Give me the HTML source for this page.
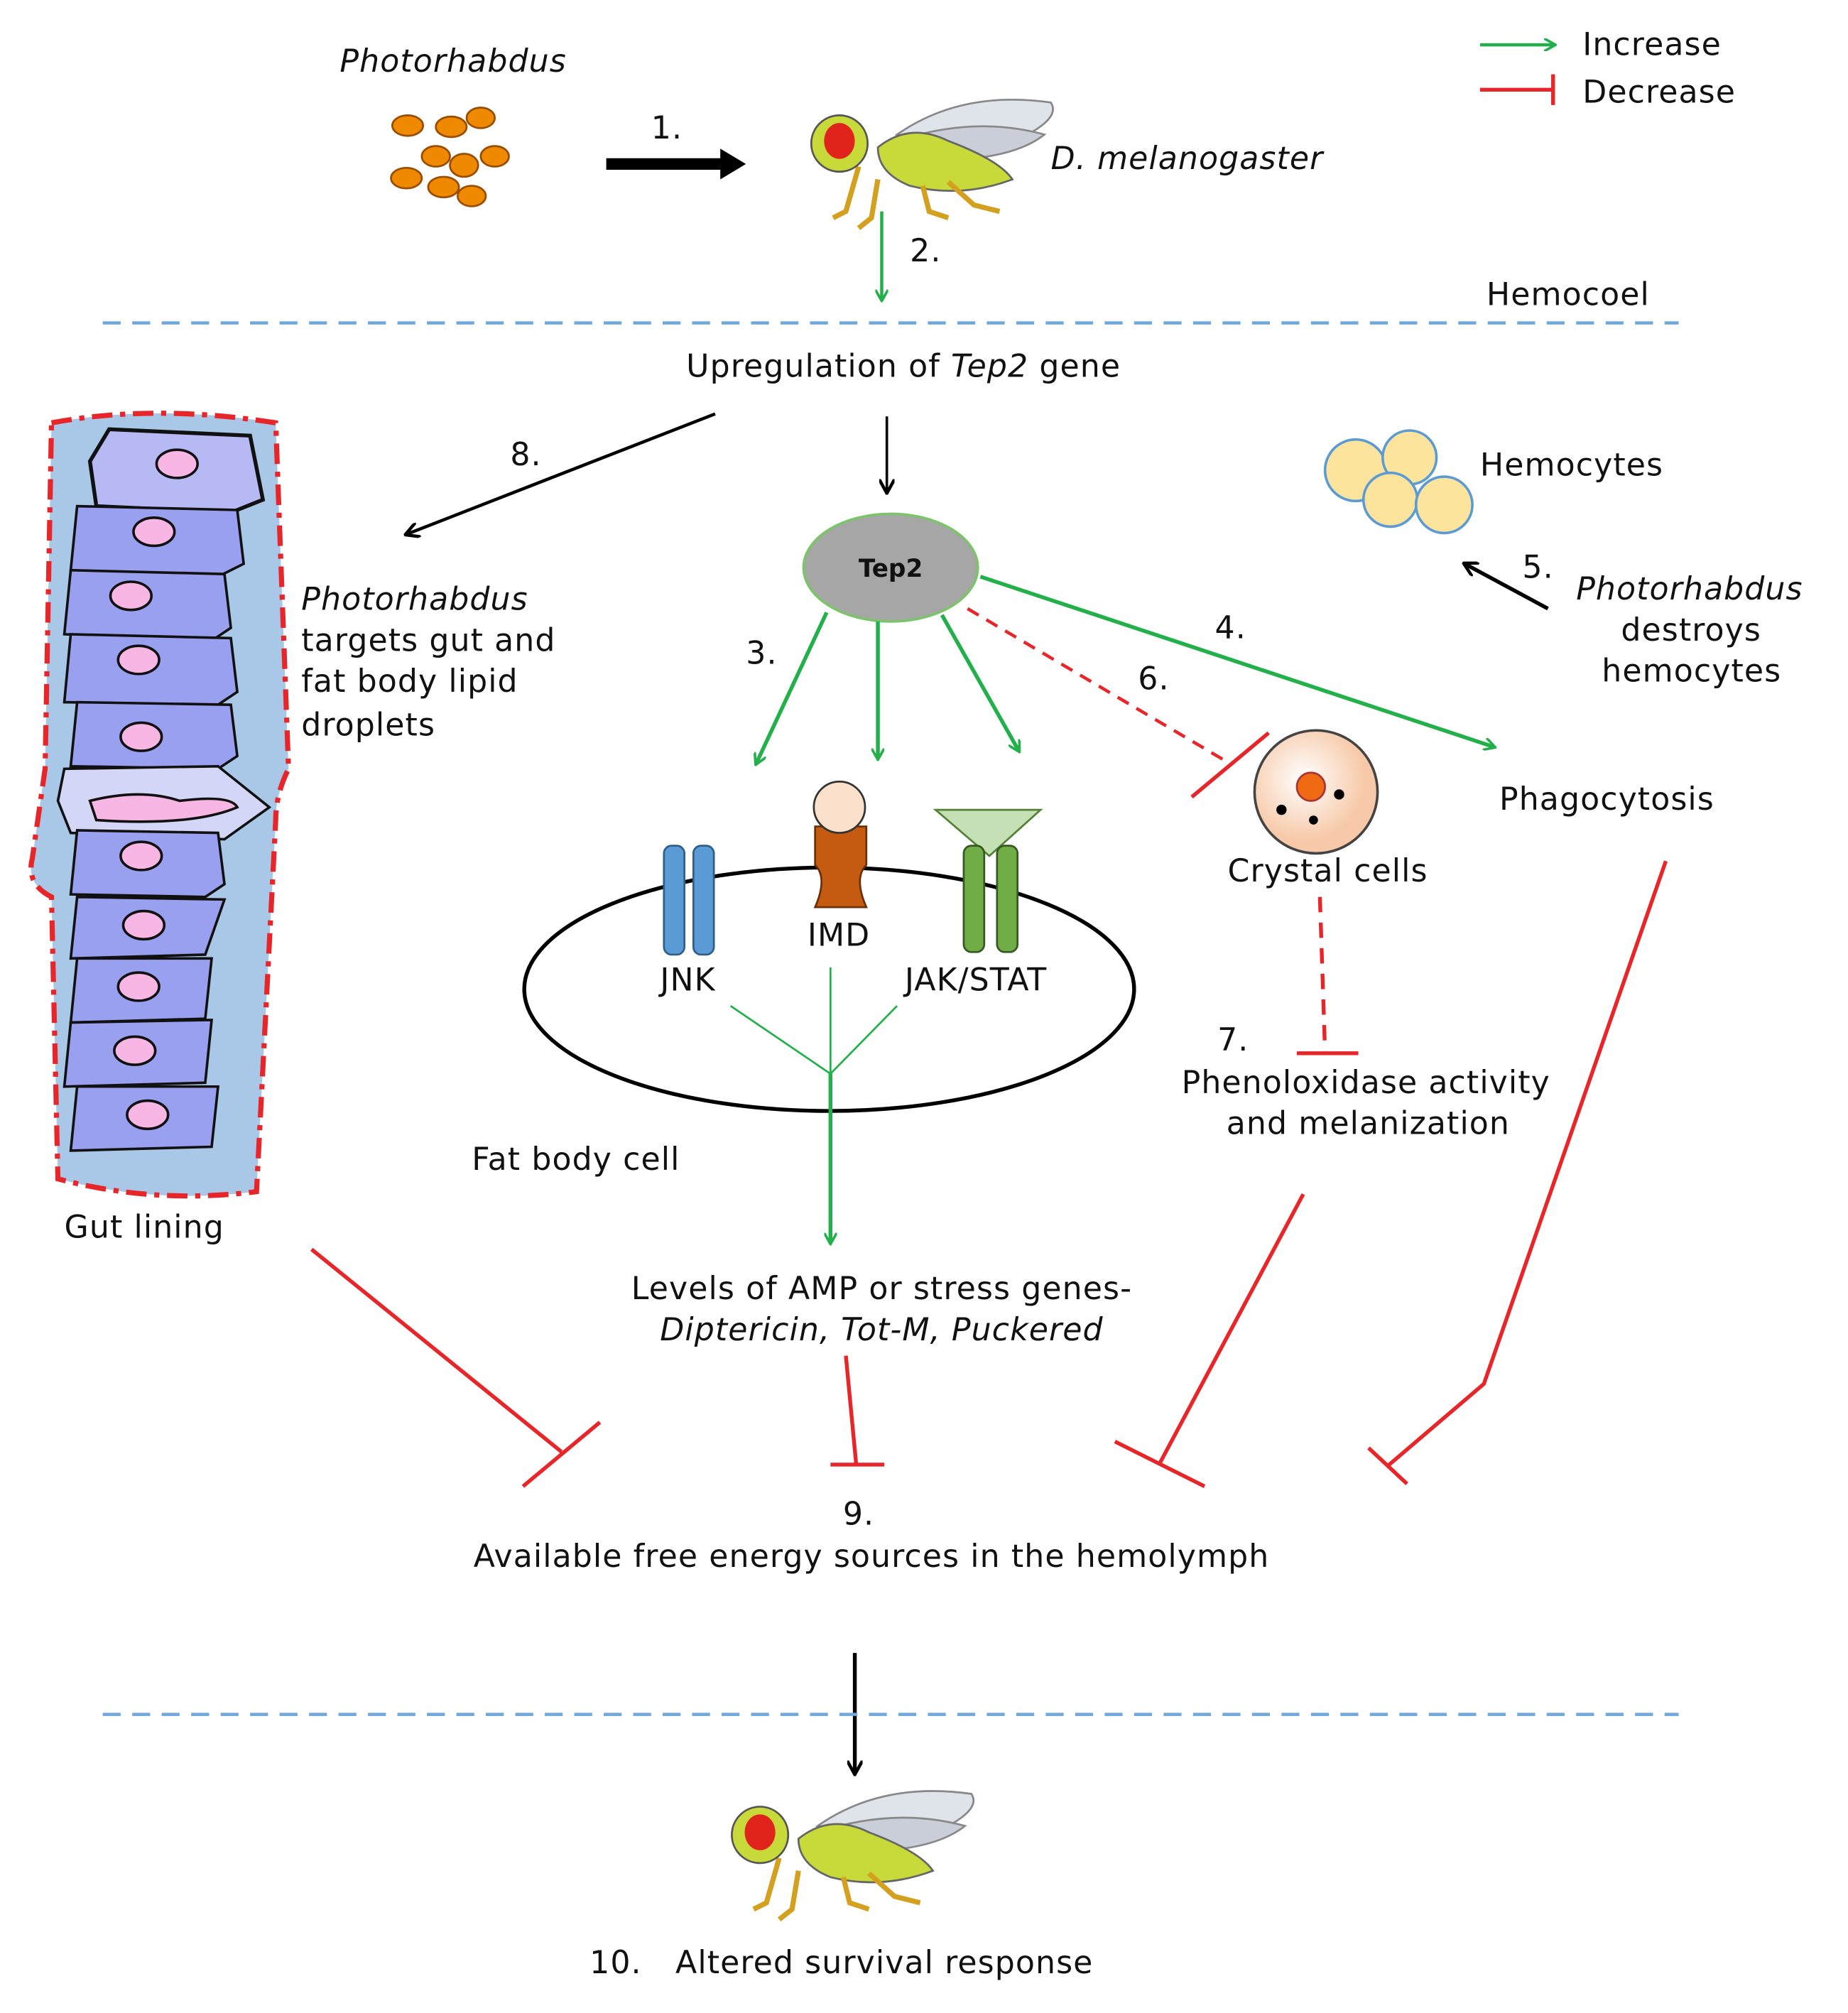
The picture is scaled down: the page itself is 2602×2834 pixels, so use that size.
<!DOCTYPE html>
<html><head><meta charset="utf-8"><style>
html,body{margin:0;padding:0;background:#fff}
svg{display:block}
text{font-family:"DejaVu Sans","Liberation Sans",sans-serif;font-size:24.5px;letter-spacing:0.6px;fill:#111}
.i{font-style:italic}
</style></head><body>
<svg width="2602" height="2834" viewBox="0 0 1442 1571" xmlns="http://www.w3.org/2000/svg">
<defs>
<marker id="ag" markerWidth="10" markerHeight="10" refX="8" refY="5" orient="auto" markerUnits="userSpaceOnUse" viewBox="0 0 10 10"><path d="M0,0 L9,5 L0,10" fill="none" stroke="#22b04b" stroke-width="2"/></marker>
<marker id="ak" markerWidth="12" markerHeight="12" refX="10" refY="6" orient="auto" markerUnits="userSpaceOnUse" viewBox="0 0 12 12"><path d="M0,0 L11,6 L0,12" fill="none" stroke="#000" stroke-width="2.5"/></marker>
<radialGradient id="cg" cx="40%" cy="40%"><stop offset="0" stop-color="#fff"/><stop offset="1" stop-color="#f7c9a8"/></radialGradient>
<g id="fly">
<path d="M70,35 Q120,0 190,10 Q200,25 150,45 Z" fill="#dfe3ea" stroke="#888" stroke-width="1.5"/>
<path d="M70,40 Q130,20 185,35 Q160,55 100,55 Z" fill="#c9ced8" stroke="#888" stroke-width="1.5"/>
<path d="M55,45 Q80,25 110,40 Q150,55 160,70 Q120,85 80,75 Q55,65 55,45Z" fill="#c8d93a" stroke="#666" stroke-width="1.5"/>
<path d="M40,60 L30,95 L20,100 M55,70 L50,100 L40,108 M90,75 L95,95 L110,100 M110,72 L130,90 L150,95" stroke="#d4a020" stroke-width="4" fill="none"/>
<circle cx="25" cy="42" r="22" fill="#c8d93a" stroke="#555" stroke-width="1.5"/>
<ellipse cx="25" cy="40" rx="12" ry="14" fill="#e0241b"/>
</g>
</defs>

<text x="265" y="56" class="i">Photorhabdus</text>
<g fill="#ef8a00" stroke="#9a4d00" stroke-width="1.5">
<ellipse cx="318" cy="98" rx="12" ry="8"/><ellipse cx="352" cy="99" rx="12" ry="8"/><ellipse cx="375" cy="92" rx="11" ry="8"/>
<ellipse cx="340" cy="122" rx="11" ry="8"/><ellipse cx="362" cy="129" rx="11" ry="9"/><ellipse cx="386" cy="122" rx="11" ry="8"/>
<ellipse cx="317" cy="139" rx="12" ry="8"/><ellipse cx="346" cy="146" rx="12" ry="8"/><ellipse cx="368" cy="153" rx="11" ry="8"/>
</g>
<text x="508" y="108">1.</text>
<path d="M473,128 L565,128" stroke="#000" stroke-width="9"/>
<path d="M562,116 L582,128 L562,140Z" fill="#000"/>
<use href="#fly" x="630" y="70"/>
<text x="820" y="132" class="i">D. melanogaster</text>
<line x1="688" y1="165" x2="688" y2="234" stroke="#22b04b" stroke-width="2.5" marker-end="url(#ag)"/>
<text x="710" y="204">2.</text>

<line x1="1155" y1="35" x2="1213" y2="35" stroke="#22b04b" stroke-width="2.5" marker-end="url(#ag)"/>
<text x="1235" y="43">Increase</text>
<path d="M1155,70 L1212,70 M1212,58 L1212,82" stroke="#e8262a" stroke-width="3" fill="none"/>
<text x="1235" y="80">Decrease</text>
<text x="1160" y="238">Hemocoel</text>
<line x1="80" y1="252" x2="1310" y2="252" stroke="#6fa8dc" stroke-width="2.5" stroke-dasharray="14,9"/>
<text x="705" y="294" text-anchor="middle">Upregulation of <tspan class="i">Tep2</tspan> gene</text>

<path d="M40,330 Q120,315 215,330 L225,600 Q215,620 215,640 L200,930 Q120,940 45,920 L40,700 Q20,690 25,670 L35,600 Z" fill="#a9c7e6" stroke="#e8262a" stroke-width="4" stroke-dasharray="16,6,4,6"/>
<g stroke="#111" stroke-width="2" fill="#9aa0f0">
<path d="M85,335 L195,340 L205,390 L180,400 L75,395 L70,360Z" fill="#b7b9f5" stroke-width="3"/>
<path d="M60,395 L185,398 L190,440 L170,450 L55,445Z"/>
<path d="M55,445 L175,448 L180,490 L165,500 L50,495Z"/>
<path d="M55,495 L180,498 L185,540 L170,550 L50,548Z"/>
<path d="M60,548 L180,550 L185,590 L170,600 L55,598Z"/>
<path d="M50,600 L170,598 L210,630 L175,655 L55,650 L45,625Z" fill="#d4d6f8"/>
<path d="M60,648 L170,650 L175,690 L160,700 L55,698Z"/>
<path d="M60,700 L175,702 L160,745 L55,748Z"/>
<path d="M60,748 L165,748 L160,795 L55,798Z"/>
<path d="M55,798 L165,796 L160,845 L50,848Z"/>
<path d="M60,848 L170,848 L165,895 L55,898Z"/>
</g>
<g fill="#f7b6e4" stroke="#111" stroke-width="2">
<ellipse cx="138" cy="362" rx="16" ry="11"/><ellipse cx="120" cy="415" rx="16" ry="11"/><ellipse cx="102" cy="465" rx="16" ry="11"/>
<ellipse cx="108" cy="515" rx="16" ry="11"/><ellipse cx="110" cy="575" rx="16" ry="11"/>
<path d="M70,625 Q110,615 140,625 Q180,620 185,630 Q150,645 75,640Z"/>
<ellipse cx="110" cy="668" rx="16" ry="11"/><ellipse cx="112" cy="722" rx="16" ry="11"/><ellipse cx="108" cy="770" rx="16" ry="11"/>
<ellipse cx="105" cy="820" rx="16" ry="11"/><ellipse cx="115" cy="870" rx="16" ry="11"/>
</g>
<text x="50" y="966">Gut lining</text>

<line x1="558" y1="323" x2="317" y2="417" stroke="#000" stroke-width="2.5" marker-end="url(#ak)"/>
<text x="398" y="363">8.</text>
<text x="235" y="476" class="i">Photorhabdus</text>
<text x="235" y="508">targets gut and</text>
<text x="235" y="540">fat body lipid</text>
<text x="235" y="574">droplets</text>

<line x1="692" y1="325" x2="692" y2="384" stroke="#000" stroke-width="2" marker-end="url(#ak)"/>
<ellipse cx="695" cy="443" rx="68" ry="42" fill="#a6a6a6" stroke="#7cc46a" stroke-width="2"/>
<text x="695" y="450" text-anchor="middle" style="font-size:19px;font-weight:bold;letter-spacing:0">Tep2</text>

<g stroke="#22b04b" stroke-width="3" marker-end="url(#ag)">
<line x1="645" y1="478" x2="590" y2="596"/>
<line x1="685" y1="485" x2="685" y2="592"/>
<line x1="735" y1="480" x2="795" y2="586"/>
<line x1="765" y1="450" x2="1166" y2="583"/>
</g>
<text x="582" y="518">3.</text>
<text x="948" y="498">4.</text>
<line x1="755" y1="475" x2="960" y2="596" stroke="#e8262a" stroke-width="2.5" stroke-dasharray="10,7"/>
<line x1="930" y1="622" x2="990" y2="572" stroke="#e8262a" stroke-width="3"/>
<text x="888" y="538">6.</text>

<g fill="#fde49c" stroke="#5b9bd5" stroke-width="2">
<circle cx="1058" cy="367" r="24"/><circle cx="1100" cy="357" r="21"/><circle cx="1085" cy="390" r="21"/><circle cx="1127" cy="394" r="22"/>
</g>
<text x="1155" y="371">Hemocytes</text>
<line x1="1208" y1="475" x2="1143" y2="440" stroke="#000" stroke-width="3" marker-end="url(#ak)"/>
<text x="1188" y="451">5.</text>
<text x="1230" y="468" class="i">Photorhabdus</text>
<text x="1265" y="500">destroys</text>
<text x="1250" y="532">hemocytes</text>
<text x="1170" y="632">Phagocytosis</text>

<circle cx="1027" cy="618" r="48" fill="url(#cg)" stroke="#444" stroke-width="2"/>
<circle cx="1023" cy="614" r="11" fill="#ef6a12" stroke="#a33" stroke-width="1.5"/>
<circle cx="1000" cy="632" r="4" fill="#000"/><circle cx="1045" cy="620" r="4" fill="#000"/><circle cx="1025" cy="640" r="3.5" fill="#000"/>
<text x="958" y="688">Crystal cells</text>
<line x1="1030" y1="700" x2="1034" y2="820" stroke="#e8262a" stroke-width="3" stroke-dasharray="12,8"/>
<line x1="1012" y1="822" x2="1060" y2="822" stroke="#e8262a" stroke-width="3"/>
<text x="950" y="820">7.</text>
<text x="922" y="853">Phenoloxidase activity</text>
<text x="957" y="885">and melanization</text>

<ellipse cx="647" cy="772" rx="238" ry="95" fill="#fff" stroke="#000" stroke-width="3"/>
<rect x="518" y="660" width="16" height="85" rx="6" fill="#5b9bd5" stroke="#2e5f8a" stroke-width="1.5"/>
<rect x="541" y="660" width="16" height="85" rx="6" fill="#5b9bd5" stroke="#2e5f8a" stroke-width="1.5"/>
<path d="M636,645 L676,645 L676,675 Q666,685 676,708 L636,708 Q646,685 636,675Z" fill="#c55a11" stroke="#6b2e05" stroke-width="1.5"/>
<circle cx="655" cy="630" r="20" fill="#fbe1cc" stroke="#333" stroke-width="1.5"/>
<path d="M730,632 L812,632 L772,668Z" fill="#c5e0b4" stroke="#538135" stroke-width="1.5"/>
<rect x="752" y="660" width="16" height="83" rx="6" fill="#70ad47" stroke="#385723" stroke-width="1.5"/>
<rect x="778" y="660" width="16" height="83" rx="6" fill="#70ad47" stroke="#385723" stroke-width="1.5"/>
<text x="515" y="773">JNK</text>
<text x="630" y="738">IMD</text>
<text x="706" y="773">JAK/STAT</text>
<g stroke="#22b04b" stroke-width="1.5"><line x1="570" y1="785" x2="648" y2="838"/><line x1="700" y1="785" x2="648" y2="838"/><line x1="648" y1="755" x2="648" y2="838"/></g>
<line x1="648" y1="838" x2="648" y2="970" stroke="#22b04b" stroke-width="3" marker-end="url(#ag)"/>
<text x="368" y="913">Fat body cell</text>

<text x="688" y="1014" text-anchor="middle">Levels of AMP or stress genes-</text>
<text x="688" y="1046" text-anchor="middle" class="i">Diptericin, Tot-M, Puckered</text>

<g stroke="#e8262a" stroke-width="3" fill="none">
<path d="M660,1058 L668,1142 M648,1143 L690,1143"/>
<path d="M243,975 L438,1133 M408,1160 L468,1110"/>
<path d="M1017,932 L905,1142 M870,1125 L940,1160"/>
<path d="M1300,672 L1158,1080 L1083,1144 M1068,1130 L1098,1158"/>
</g>
<text x="670" y="1190" text-anchor="middle">9.</text>
<text x="680" y="1223" text-anchor="middle">Available free energy sources in the hemolymph</text>

<line x1="667" y1="1290" x2="667" y2="1384" stroke="#000" stroke-width="3" marker-end="url(#ak)"/>
<line x1="80" y1="1338" x2="1310" y2="1338" stroke="#6fa8dc" stroke-width="2.5" stroke-dasharray="14,9"/>
<use href="#fly" x="568" y="1390"/>
<text x="460" y="1540">10.</text>
<text x="527" y="1540">Altered survival response</text>
</svg>
</body></html>
